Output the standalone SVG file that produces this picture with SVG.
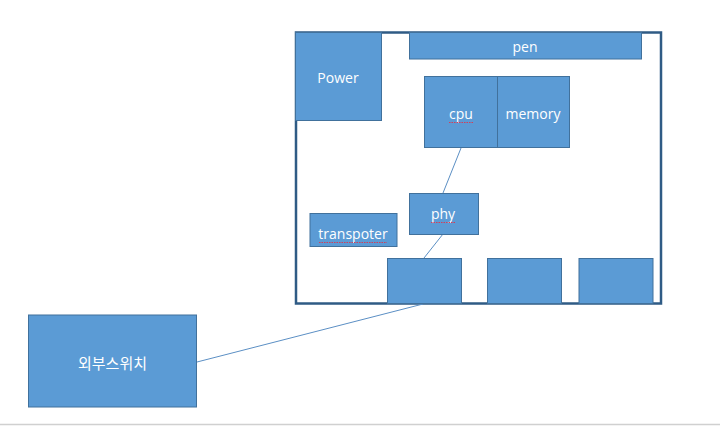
<svg xmlns="http://www.w3.org/2000/svg" width="720" height="426" viewBox="0 0 720 426">
<style>
.box{fill:#5B9BD5;stroke:#41719C;stroke-width:1}
.lbl{font-family:"Open Sans","Noto Sans","Noto Sans CJK KR",sans-serif;font-size:14px;fill:#ffffff;text-anchor:middle;dominant-baseline:central}
.ko{font-family:"Noto Sans CJK KR","Noto Sans",sans-serif;font-size:15px}
.conn{stroke:#5B8FC4;stroke-width:1;fill:none}
.sp{stroke:#D0405A;stroke-width:1;fill:none;stroke-dasharray:1.5 1}
</style>
<rect width="720" height="426" fill="#ffffff"/>
<line x1="0" y1="424.5" x2="720" y2="424.5" stroke="#D0D0D0" stroke-width="1.5"/>
<g id="frame"><rect x="296" y="32.5" width="365" height="271" fill="none" stroke="#2F5B85" stroke-width="2.5"/></g>
<g id="connectors">
<line class="conn" x1="461" y1="148" x2="443" y2="193"/>
<line class="conn" x1="443" y1="234" x2="424" y2="258"/>
<line class="conn" x1="423" y1="304" x2="197" y2="362"/>
</g>
<g id="power"><rect class="box" x="295.5" y="32.5" width="86" height="88"/><text class="lbl" x="338" y="77">Power</text></g>
<g id="pen"><rect class="box" x="409.5" y="32.5" width="232" height="26.5"/><text class="lbl" x="525" y="46">pen</text></g>
<g id="cpu"><rect class="box" x="424.5" y="76.5" width="73" height="71"/><text class="lbl" x="461" y="113">cpu</text><path class="sp" d="M449 122.5 L473 122.5"/></g>
<g id="memory"><rect class="box" x="497.5" y="76.5" width="72" height="71"/><text class="lbl" x="533" y="113">memory</text></g>
<g id="phy"><rect class="box" x="409.5" y="193.5" width="69" height="41"/><text class="lbl" x="443" y="213">phy</text><path class="sp" d="M431 222.5 L456 222.5"/></g>
<g id="transpoter"><rect class="box" x="310" y="213.5" width="87" height="33"/><text class="lbl" x="353" y="233">transpoter</text><path class="sp" d="M319 242.5 L387 242.5"/></g>
<g id="port1"><rect class="box" x="387.5" y="258.5" width="74" height="45"/></g>
<g id="port2"><rect class="box" x="487.5" y="258.5" width="74" height="45"/></g>
<g id="port3"><rect class="box" x="579" y="258.5" width="74" height="45"/></g>
<g id="switch"><rect class="box" x="28.5" y="315" width="168" height="92"/><text class="lbl ko" x="112.5" y="362">외부스위치</text></g>
</svg>
